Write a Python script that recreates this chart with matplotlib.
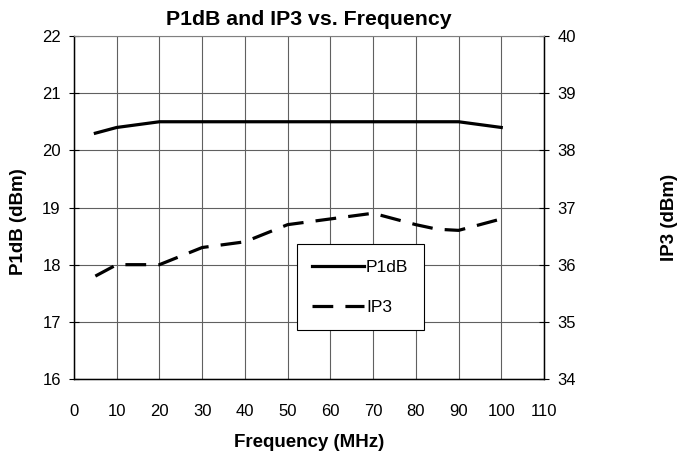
import numpy as np
import matplotlib.pyplot as plt

plt.rcParams['font.family'] = ['Liberation Sans', 'DejaVu Sans']
plt.rcParams['font.size'] = 12

# Datos
freq = [5, 10, 20, 30, 40, 50, 60, 70, 80, 90, 100]
p1db = [20.3, 20.4, 20.5, 20.5, 20.5, 20.5, 20.5, 20.5, 20.5, 20.5, 20.4]
ip3_freq = [5, 10, 15, 20, 30, 40, 50, 60, 70, 80, 85, 90, 100]
ip3 = [35.8, 36.0, 36.0, 36.0, 36.3, 36.4, 36.7, 36.8, 36.9, 36.7, 36.62, 36.6, 36.8]

xticks = np.arange(0, 111, 10)
yticks_left = np.arange(16, 23, 1)
yticks_right = np.arange(34, 41, 1)

W, H = 687, 459
fig = plt.figure(figsize=(W/100, H/100), dpi=100)
ax = fig.add_axes([74/W, 1-379/H, 470/W, 343/H])
ax2 = ax.twinx()

# Lineas
l1, = ax.plot(freq, p1db, color='black', linewidth=2.3, solid_joinstyle='round', label='P1dB')
l2, = ax2.plot(ip3_freq, ip3, color='black', linewidth=2.3, dashes=(6.5, 3.8), label='IP3')

ax.set_xlim(0, 110)
ax.set_ylim(16, 22)
ax2.set_ylim(34, 40)
ax.set_xticks(xticks)
ax.set_yticks(yticks_left)
ax2.set_yticks(yticks_right)

# Rejilla
ax.grid(True, color='#606060', linewidth=0.8)
ax.set_axisbelow(True)

for s in ['left', 'right', 'bottom']:
    ax2.spines[s].set_color('black')
    ax2.spines[s].set_linewidth(1.0)
ax2.spines['top'].set_color('#808080')
ax2.spines['top'].set_linewidth(0.8)
ax.spines['top'].set_visible(False)

ax.tick_params(axis='x', length=0, pad=18, labelsize=12)
ax.tick_params(axis='y', direction='inout', length=7, pad=6, labelsize=12)
ax2.tick_params(axis='y', direction='inout', length=7, pad=6, labelsize=12)

ax.set_title('P1dB and IP3 vs. Frequency', fontsize=15.3, fontweight='bold', pad=8)
ax.set_xlabel('Frequency (MHz)', fontsize=13.5, fontweight='bold')
ax.xaxis.set_label_coords(0.5, -0.16)
ax.set_ylabel('P1dB (dBm)', fontsize=13.5, fontweight='bold')
ax.yaxis.set_label_coords(-0.100, 0.46)
ax2.set_ylabel('IP3 (dBm)', fontsize=13.5, fontweight='bold', rotation=90)
ax2.yaxis.set_label_coords(1.25, 0.47)

leg = ax2.legend(handles=[l1, l2], loc='center', bbox_to_anchor=(0.609, 0.267),
                 fancybox=False, framealpha=1, edgecolor='black', handlelength=3.0,
                 labelspacing=1.4, handletextpad=0.1, borderpad=0.9, fontsize=12.5)
leg.get_frame().set_linewidth(0.8)

fig.savefig('out.png', dpi=100)
